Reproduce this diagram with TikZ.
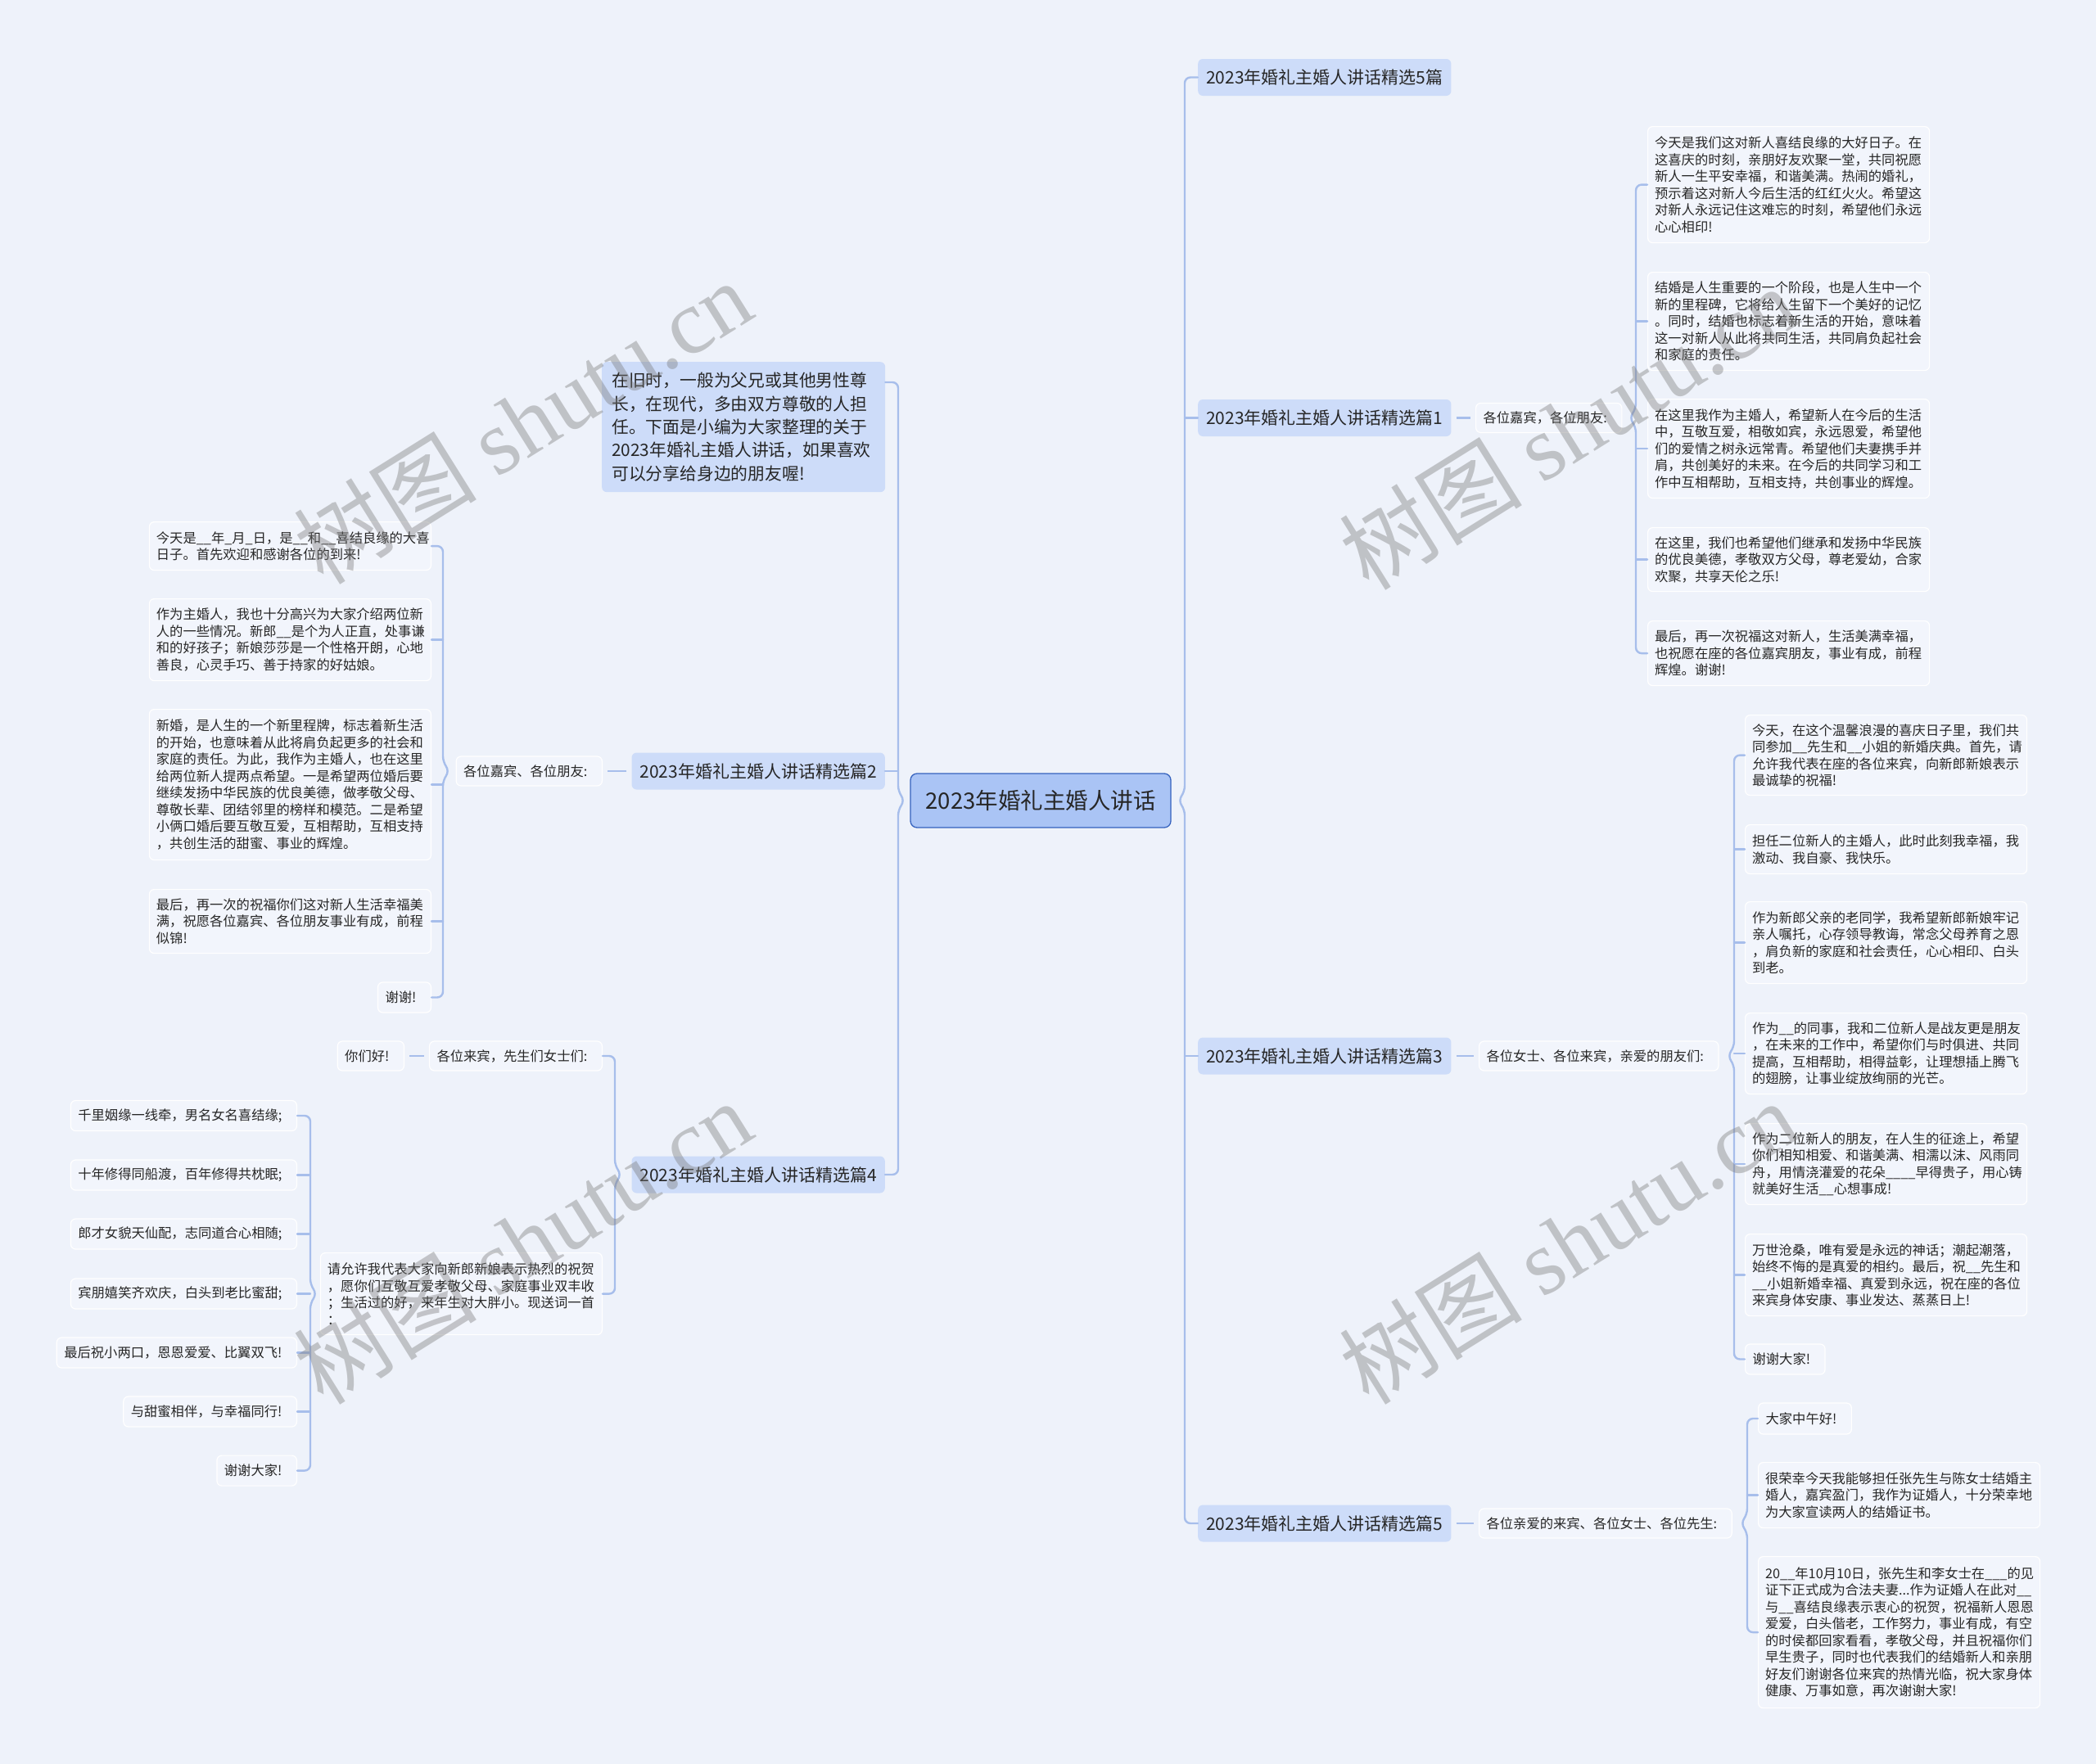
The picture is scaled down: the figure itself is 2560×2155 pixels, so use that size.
\documentclass[tikz,border=0pt]{standalone}
\usepackage{fontspec}
\setmainfont{Noto Sans CJK SC}
\newfontfamily\wmserif{Liberation Serif}
\usetikzlibrary{calc}
\definecolor{bgc}{HTML}{EEF2FA}
\definecolor{leaffill}{HTML}{F2F5FC}
\definecolor{branchfill}{HTML}{CDDCF9}
\definecolor{centerfill}{HTML}{AAC4F5}
\definecolor{centerdraw}{HTML}{3562BE}
\definecolor{linec}{HTML}{A7BEEB}
\definecolor{txt}{HTML}{262626}
\definecolor{wmgray}{HTML}{7A7A7A}
\begin{document}
\begin{tikzpicture}[x=1pt,y=-1pt,
 conn/.style={draw=linec, line width=2.4pt, rounded corners=7pt, line cap=round},
 dashc/.style={draw=linec, line width=2.4pt, shorten >=6pt, shorten <=6pt},
 leafbase/.style={draw=white, line width=1.2pt, fill=leaffill, rounded corners=6pt, text=txt, font=\fontsize{16.3}{20.5}\selectfont},
 para/.style={leafbase, align=left, inner xsep=8.5pt, inner ysep=0pt, text width=327pt},
 lbl/.style={leafbase, inner xsep=9pt, inner ysep=0pt, minimum height=36pt},
 branch/.style={fill=branchfill, rounded corners=6pt, text=txt, font=\fontsize{21}{25}\selectfont, inner xsep=10pt, minimum height=45pt},
 wm/.style={text=wmgray, opacity=0.40, font=\fontsize{112}{112}\selectfont, rotate=32}
]
\fill[bgc] (0,0) rectangle (2560,2155);
\useasboundingbox (0,0) rectangle (2560,2155);

% centre
\node[fill=centerfill, draw=centerdraw, line width=1.3pt, rounded corners=8pt, minimum width=318pt, minimum height=66pt, text=txt, font=\fontsize{27.5}{31}\selectfont] (C) at (1271,978) {2023年婚礼主婚人讲话};

% right branches
\node[branch, anchor=west] (r5) at (1463,94.5) {2023年婚礼主婚人讲话精选5篇};
\node[branch, anchor=west] (r1) at (1463,510.5) {2023年婚礼主婚人讲话精选篇1};
\node[branch, anchor=west] (r3) at (1463,1290) {2023年婚礼主婚人讲话精选篇3};
\node[branch, anchor=west] (r6) at (1463,1861) {2023年婚礼主婚人讲话精选篇5};

% left branches
\node[branch, anchor=north west, text width=322pt, align=left, inner xsep=12pt, inner ysep=0pt, minimum height=159pt, font=\fontsize{20.8}{28.3}\selectfont] (intro) at (735,442) {在旧时，一般为父兄或其他男性尊\\长，在现代，多由双方尊敬的人担\\任。下面是小编为大家整理的关于\\2023年婚礼主婚人讲话，如果喜欢\\可以分享给身边的朋友喔!};
\node[branch, anchor=east] (l2) at (1081,942) {2023年婚礼主婚人讲话精选篇2};
\node[branch, anchor=east] (l4) at (1081,1435) {2023年婚礼主婚人讲话精选篇4};

% labels
\node[lbl, anchor=west] (a1) at (1802,510.5) {各位嘉宾，各位朋友:\kern9pt};
\node[lbl, anchor=west] (a3) at (1806,1290) {各位女士、各位来宾，亲爱的朋友们:\kern9pt};
\node[lbl, anchor=west] (a5) at (1806,1861) {各位亲爱的来宾、各位女士、各位先生:\kern9pt};
\node[lbl, anchor=east] (a2) at (736,942) {各位嘉宾、各位朋友:\kern9pt};
\node[lbl, anchor=east] (a4) at (736,1290) {各位来宾，先生们女士们:\kern9pt};
\node[lbl, anchor=east] (hi) at (494,1290) {你们好!\kern9pt};

% 篇1 leaves
\node[para, anchor=north west, minimum height=142pt] (L1) at (2012,154) {今天是我们这对新人喜结良缘的大好日子。在\\这喜庆的时刻，亲朋好友欢聚一堂，共同祝愿\\新人一生平安幸福，和谐美满。热闹的婚礼，\\预示着这对新人今后生活的红红火火。希望这\\对新人永远记住这难忘的时刻，希望他们永远\\心心相印!};
\node[para, anchor=north west, minimum height=120pt] (L2) at (2012,332) {结婚是人生重要的一个阶段，也是人生中一个\\新的里程碑，它将给人生留下一个美好的记忆\\。同时，结婚也标志着新生活的开始，意味着\\这一对新人从此将共同生活，共同肩负起社会\\和家庭的责任。};
\node[para, anchor=north west, minimum height=121pt] (L3) at (2012,487) {在这里我作为主婚人，希望新人在今后的生活\\中，互敬互爱，相敬如宾，永远恩爱，希望他\\们的爱情之树永远常青。希望他们夫妻携手并\\肩，共创美好的未来。在今后的共同学习和工\\作中互相帮助，互相支持，共创事业的辉煌。};
\node[para, anchor=north west, minimum height=78pt] (L4) at (2012,644) {在这里，我们也希望他们继承和发扬中华民族\\的优良美德，孝敬双方父母，尊老爱幼，合家\\欢聚，共享天伦之乐!};
\node[para, anchor=north west, minimum height=79pt] (L5) at (2012,758) {最后，再一次祝福这对新人，生活美满幸福，\\也祝愿在座的各位嘉宾朋友，事业有成，前程\\辉煌。谢谢!};

% 篇3 leaves
\node[para, anchor=north west, minimum height=98pt] (M1) at (2131,873) {今天，在这个温馨浪漫的喜庆日子里，我们共\\同参加\_\_先生和\_\_小姐的新婚庆典。首先，请\\允许我代表在座的各位来宾，向新郎新娘表示\\最诚挚的祝福!};
\node[para, anchor=north west, minimum height=60pt] (M2) at (2131,1007) {担任二位新人的主婚人，此时此刻我幸福，我\\激动、我自豪、我快乐。};
\node[para, anchor=north west, minimum height=100pt] (M3) at (2131,1101) {作为新郎父亲的老同学，我希望新郎新娘牢记\\亲人嘱托，心存领导教诲，常念父母养育之恩\\，肩负新的家庭和社会责任，心心相印、白头\\到老。};
\node[para, anchor=north west, minimum height=99pt] (M4) at (2131,1237) {作为\_\_的同事，我和二位新人是战友更是朋友\\，在未来的工作中，希望你们与时俱进、共同\\提高，互相帮助，相得益彰，让理想插上腾飞\\的翅膀，让事业绽放绚丽的光芒。};
\node[para, anchor=north west, minimum height=99pt] (M5) at (2131,1372) {作为二位新人的朋友，在人生的征途上，希望\\你们相知相爱、和谐美满、相濡以沫、风雨同\\舟，用情浇灌爱的花朵\_\_\_\_早得贵子，用心铸\\就美好生活\_\_心想事成!};
\node[para, anchor=north west, minimum height=100pt] (M6) at (2131,1507) {万世沧桑，唯有爱是永远的神话；潮起潮落，\\始终不悔的是真爱的相约。最后，祝\_\_先生和\\\_\_小姐新婚幸福、真爱到永远，祝在座的各位\\来宾身体安康、事业发达、蒸蒸日上!};
\node[lbl, anchor=west, minimum height=37pt] (M7) at (2131,1660.5) {谢谢大家!\kern9pt};

% 篇5 leaves
\node[lbl, anchor=west, minimum height=38pt] (Q1) at (2147,1733) {大家中午好!\kern9pt};
\node[para, anchor=north west, minimum height=80pt] (Q2) at (2147,1786) {很荣幸今天我能够担任张先生与陈女士结婚主\\婚人，嘉宾盈门，我作为证婚人，十分荣幸地\\为大家宣读两人的结婚证书。};
\node[para, anchor=north west, minimum height=185pt] (Q3) at (2147,1901) {20\_\_年10月10日，张先生和李女士在\_\_\_的见\\证下正式成为合法夫妻...作为证婚人在此对\_\_\\与\_\_喜结良缘表示衷心的祝贺，祝福新人恩恩\\爱爱，白头偕老，工作努力，事业有成，有空\\的时侯都回家看看，孝敬父母，并且祝福你们\\早生贵子，同时也代表我们的结婚新人和亲朋\\好友们谢谢各位来宾的热情光临，祝大家身体\\健康、万事如意，再次谢谢大家!};

% 篇2 leaves
\node[para, anchor=north east, minimum height=59pt] (N1) at (527,637) {今天是\_\_年\_月\_日，是\_\_和\_\_喜结良缘的大喜\\日子。首先欢迎和感谢各位的到来!};
\node[para, anchor=north east, minimum height=100pt] (N2) at (527,731) {作为主婚人，我也十分高兴为大家介绍两位新\\人的一些情况。新郎\_\_是个为人正直，处事谦\\和的好孩子；新娘莎莎是一个性格开朗，心地\\善良，心灵手巧、善于持家的好姑娘。};
\node[para, anchor=north east, minimum height=184pt] (N3) at (527,866) {新婚，是人生的一个新里程牌，标志着新生活\\的开始，也意味着从此将肩负起更多的社会和\\家庭的责任。为此，我作为主婚人，也在这里\\给两位新人提两点希望。一是希望两位婚后要\\继续发扬中华民族的优良美德，做孝敬父母、\\尊敬长辈、团结邻里的榜样和模范。二是希望\\小俩口婚后要互敬互爱，互相帮助，互相支持\\，共创生活的甜蜜、事业的辉煌。};
\node[para, anchor=north east, minimum height=78pt] (N4) at (527,1086) {最后，再一次的祝福你们这对新人生活幸福美\\满，祝愿各位嘉宾、各位朋友事业有成，前程\\似锦!};
\node[lbl, anchor=east, minimum height=37pt] (N5) at (527,1218.5) {谢谢!\kern9pt};

% 篇4 leaves
\node[para, anchor=north east, minimum height=100pt] (req) at (736,1530) {请允许我代表大家向新郎新娘表示热烈的祝贺\\，愿你们互敬互爱孝敬父母、家庭事业双丰收\\；生活过的好，来年生对大胖小。现送词一首\\：};
\node[lbl, anchor=east, minimum height=37pt] (P1) at (363,1363) {千里姻缘一线牵，男名女名喜结缘;\kern9pt};
\node[lbl, anchor=east, minimum height=37pt] (P2) at (363,1435.5) {十年修得同船渡，百年修得共枕眠;\kern9pt};
\node[lbl, anchor=east, minimum height=37pt] (P3) at (363,1507.5) {郎才女貌天仙配，志同道合心相随;\kern9pt};
\node[lbl, anchor=east, minimum height=37pt] (P4) at (363,1580.5) {宾朋嬉笑齐欢庆，白头到老比蜜甜;\kern9pt};
\node[lbl, anchor=east, minimum height=37pt] (P5) at (363,1652.5) {最后祝小两口，恩恩爱爱、比翼双飞!\kern9pt};
\node[lbl, anchor=east, minimum height=37pt] (P6) at (363,1724.5) {与甜蜜相伴，与幸福同行!\kern9pt};
\node[lbl, anchor=east, minimum height=37pt] (P7) at (363,1796.6) {谢谢大家!\kern9pt};

% ---------- connectors ----------
\coordinate (TR) at (1447,0);
\coordinate (TL) at (1097,0);
\coordinate (B1) at (1998,0);
\coordinate (B3) at (2118,0);
\coordinate (B5) at (2134,0);
\coordinate (B2) at (541,0);
\coordinate (B4) at (751,0);
\coordinate (BP) at (379,0);
\coordinate (ia) at ($(intro.north east)+(0,25)$);

% right trunk
\draw[conn] (r5.west) -- (r5.west -| TR) -- ($(C.east -| TR)+(0,-11)$) -- ($(C.east -| TR)+(-8,0)$) -- ($(C.east -| TR)+(0,11)$) -- (r6.west -| TR) -- (r6.west);
\draw[conn] (r1.west -| TR) -- (r1.west);
\draw[conn] (r3.west -| TR) -- (r3.west);
% left trunk
\draw[conn] (ia) -- (ia -| TL) -- ($(C.west -| TL)+(0,-11)$) -- ($(C.west -| TL)+(8,0)$) -- ($(C.west -| TL)+(0,11)$) -- (l4.east -| TL) -- (l4.east);
\draw[conn] (l2.east -| TL) -- (l2.east);

% dashes
\draw[dashc] (r1.east) -- (a1.west);
\draw[dashc] (r3.east) -- (a3.west);
\draw[dashc] (r6.east) -- (a5.west);
\draw[dashc] (l2.west) -- (a2.east);
\draw[dashc] (a4.west) -- (hi.east);

% 篇1 brace
\draw[conn] (L1.west) -- (L1.west -| B1) -- ($(a1.east -| B1)+(0,-11)$) -- ($(a1.east -| B1)+(-8,0)$) -- ($(a1.east -| B1)+(0,11)$) -- (L5.west -| B1) -- (L5.west);
\foreach \n in {L2,L3,L4} \draw[conn] (\n.west -| B1) -- (\n.west);
% 篇3 brace
\draw[conn] (M1.west) -- (M1.west -| B3) -- ($(a3.east -| B3)+(0,-11)$) -- ($(a3.east -| B3)+(-8,0)$) -- ($(a3.east -| B3)+(0,11)$) -- (M7.west -| B3) -- (M7.west);
\foreach \n in {M2,M3,M4,M5,M6} \draw[conn] (\n.west -| B3) -- (\n.west);
% 篇5 brace
\draw[conn] (Q1.west) -- (Q1.west -| B5) -- ($(a5.east -| B5)+(0,-11)$) -- ($(a5.east -| B5)+(-8,0)$) -- ($(a5.east -| B5)+(0,11)$) -- (Q3.west -| B5) -- (Q3.west);
\draw[conn] (Q2.west -| B5) -- (Q2.west);
% 篇2 brace
\draw[conn] (N1.east) -- (N1.east -| B2) -- ($(a2.west -| B2)+(0,-11)$) -- ($(a2.west -| B2)+(8,0)$) -- ($(a2.west -| B2)+(0,11)$) -- (N5.east -| B2) -- (N5.east);
\foreach \n in {N2,N3,N4} \draw[conn] (\n.east -| B2) -- (\n.east);
% 篇4 brace
\draw[conn] (a4.east) -- (a4.east -| B4) -- ($(l4.west -| B4)+(0,-11)$) -- ($(l4.west -| B4)+(8,0)$) -- ($(l4.west -| B4)+(0,11)$) -- (req.east -| B4) -- (req.east);
% poem brace
\draw[conn] (P1.east) -- (P1.east -| BP) -- ($(req.west -| BP)+(0,-11)$) -- ($(req.west -| BP)+(8,0)$) -- ($(req.west -| BP)+(0,11)$) -- (P7.east -| BP) -- (P7.east);
\foreach \n in {P2,P3,P4,P5,P6} \draw[conn] (\n.east -| BP) -- (\n.east);

% watermarks
\node[wm] (w1) at (638,515) {树图 {\wmserif shutu.cn}};
\node[wm] (w2) at (1915,522) {树图 {\wmserif shutu.cn}};
\node[wm] (w3) at (638,1517) {树图 {\wmserif shutu.cn}};
\node[wm] (w4) at (1915,1517) {树图 {\wmserif shutu.cn}};
\end{tikzpicture}
\end{document}
